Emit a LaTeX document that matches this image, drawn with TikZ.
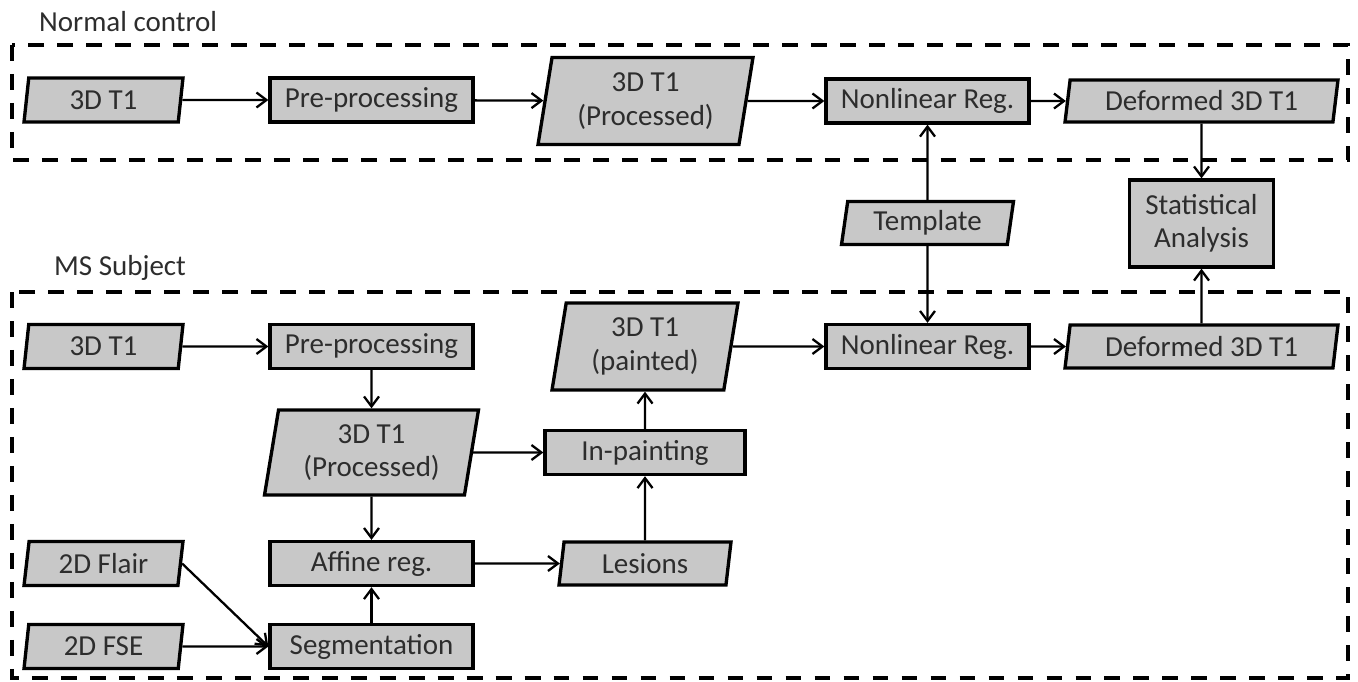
\documentclass[tikz,border=0pt]{standalone}
\usepackage{fontspec}
\setmainfont{Carlito}
\usetikzlibrary{shapes.geometric,arrows.meta}
\definecolor{boxgray}{RGB}{200,200,200}
\definecolor{txtgray}{RGB}{45,45,45}

\begin{document}
\begin{tikzpicture}[x=0.02cm, y=-0.02cm,
  font=\fontsize{16.5}{19}\selectfont,
  proc/.style={draw=black, fill=boxgray, text=txtgray, line width=1.9pt, inner sep=0pt,
    minimum width=4.06cm, minimum height=0.88cm, align=center},
  data/.style={proc, trapezium, trapezium left angle=76, trapezium right angle=104,
    trapezium stretches body},
  flow/.style={line width=1.3pt, -{Straight Barb[length=0.2cm, width=0.3cm]}},
  group/.style={line width=2.4pt, dash pattern=on 9pt off 7.5pt}]
\useasboundingbox (0,0) rectangle (1358,681);

% groups
\draw[group] (12,45) rectangle (1348,160);
\draw[group] (12,292) rectangle (1348,678);
\node[anchor=west, text=txtgray] (nclabel) at (33,22) {Normal control};
\node[anchor=west, text=txtgray] (mslabel) at (48,268) {MS Subject};

% normal control
\node[data, minimum width=3.18cm] (nc3d) at (103.5,100) {3D T1};
\node[proc] (ncpre) at (371.5,100) {Pre-processing};
\node[data, minimum width=4.3cm, minimum height=1.74cm] (ncproc) at (645.5,101) {3D T1\\(Processed)};
\node[proc] (ncreg) at (927.5,101) {Nonlinear Reg.};
\node[data, minimum width=5.46cm, minimum height=0.84cm] (ncdef) at (1201.5,101) {Deformed 3D T1};

% shared
\node[data, minimum width=3.44cm, minimum height=0.86cm] (tmpl) at (927.5,223) {Template};
\node[proc, minimum width=2.88cm, minimum height=1.74cm] (stat) at (1201.5,223.5) {Statistical\\Analysis};

% ms subject
\node[data, minimum width=3.18cm] (ms3d) at (103.5,346.5) {3D T1};
\node[proc] (mspre) at (371.5,346.5) {Pre-processing};
\node[data, minimum width=3.72cm, minimum height=1.74cm] (mspaint) at (645,346.5) {3D T1\\(painted)};
\node[proc] (msreg) at (927.5,346.5) {Nonlinear Reg.};
\node[data, minimum width=5.46cm, minimum height=0.86cm] (msdef) at (1201.5,346.5) {Deformed 3D T1};
\node[data, minimum width=4.28cm, minimum height=1.7cm] (msproc) at (371.5,452.5) {3D T1\\(Processed)};
\node[proc, minimum width=4.0cm] (inpaint) at (645,452.5) {In-painting};
\node[proc] (affine) at (371.5,563.5) {Affine reg.};
\node[data, minimum width=3.44cm, minimum height=0.86cm] (lesions) at (645,563.5) {Lesions};
\node[data, minimum width=3.18cm] (flair) at (103.5,563.5) {2D Flair};
\node[data, minimum width=3.18cm] (fse) at (103.5,646.5) {2D FSE};
\node[proc] (seg) at (371.5,646.5) {Segmentation};

\draw[flow] (nc3d) -- (ncpre);
\draw[flow] (ncpre) -- (ncproc);
\draw[flow] (ncproc) -- (ncreg);
\draw[flow] (ncreg) -- (ncdef);
\draw[flow] (ncdef) -- (stat);
\draw[flow] (tmpl) -- (ncreg);
\draw[flow] (tmpl) -- (msreg);
\draw[flow] (msdef) -- (stat);

\draw[flow] (ms3d) -- (mspre);
\draw[flow] (mspre) -- (msproc);
\draw[flow] (msproc) -- (inpaint);
\draw[flow] (msproc) -- (affine);
\draw[flow] (affine) -- (lesions);
\draw[flow] (lesions) -- (inpaint);
\draw[flow] (inpaint) -- (mspaint);
\draw[flow] (mspaint) -- (msreg);
\draw[flow] (msreg) -- (msdef);
\draw[flow] (flair.east) -- (seg.west);
\draw[flow] (fse) -- (seg);
\draw[flow] (seg) -- (affine);

\end{tikzpicture}
\end{document}
